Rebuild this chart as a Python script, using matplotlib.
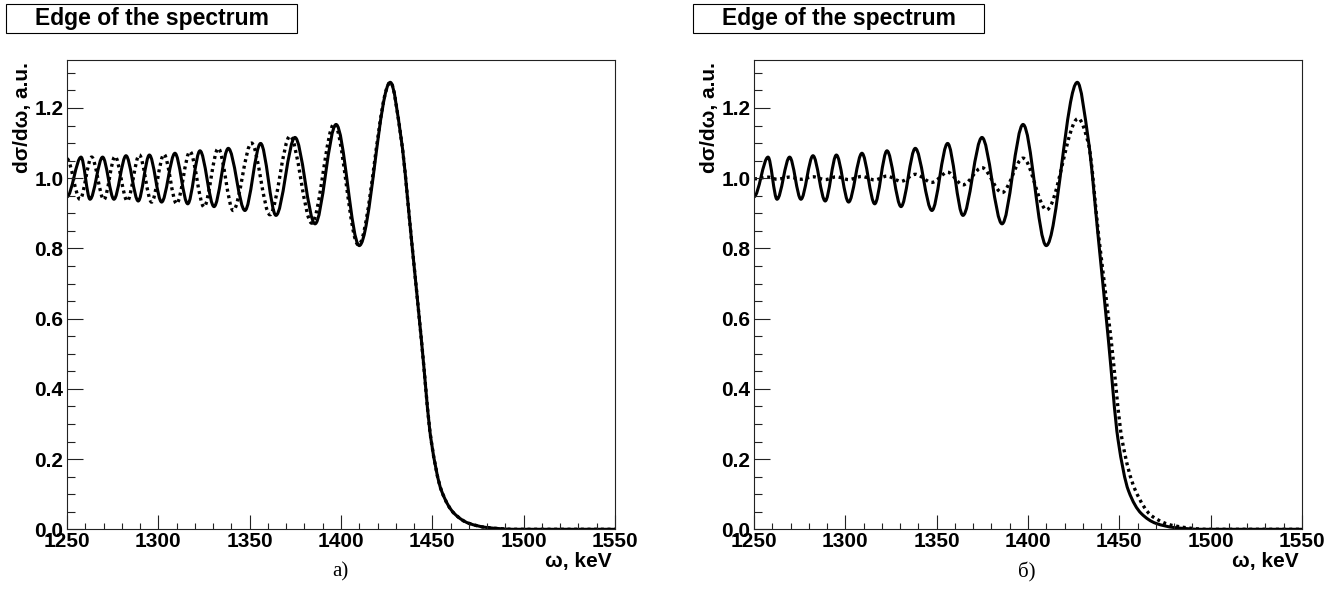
import matplotlib
matplotlib.use("Agg")
import matplotlib.pyplot as plt
from matplotlib.path import Path
from matplotlib.patches import PathPatch, Rectangle
from matplotlib.ticker import MultipleLocator, FormatStrFormatter

plt.rcParams['font.family'] = ['Liberation Sans', 'DejaVu Sans']
plt.rcParams['font.weight'] = 'bold'

# solid curve, same on both panels: oscillation extrema, then the falling edge
solid_w = [1250, 1257.7, 1262.6, 1269.5, 1275.7, 1282.3, 1289.0, 1295.1, 1301.8, 1309.1,
           1316.1, 1322.8, 1330.5, 1338.3, 1347.4, 1356.0, 1364.4, 1374.8, 1385.8, 1397.3,
           1410.0, 1427.0, 1433.0, 1438.6, 1444.0, 1449.3, 1455.0, 1462, 1470, 1480, 1495, 1550]
solid_y = [0.947, 1.060, 0.940, 1.060, 0.940, 1.064, 0.935, 1.066, 0.932, 1.071,
           0.927, 1.078, 0.919, 1.085, 0.908, 1.099, 0.894, 1.116, 0.870, 1.153,
           0.808, 1.273, 1.110, 0.824, 0.540, 0.255, 0.110, 0.045, 0.017, 0.005, 0.0, 0.0]

# dotted curve of panel a)
dotted_a_w = [1250, 1257.1, 1263.5, 1270.2, 1276.3, 1283.0, 1289.6, 1296.3, 1303.1, 1310.0,
              1317.3, 1325.0, 1332.8, 1341.0, 1351.0, 1361.1, 1372.1, 1384.0, 1396.3, 1409.5,
              1427.0, 1433.0, 1438.6, 1444.0, 1449.3, 1455.0, 1462, 1470, 1480, 1495, 1550]
dotted_a_y = [1.055, 0.940, 1.060, 0.939, 1.062, 0.935, 1.066, 0.932, 1.068, 0.927,
              1.076, 0.918, 1.085, 0.908, 1.100, 0.896, 1.120, 0.872, 1.155, 0.810,
              1.273, 1.110, 0.824, 0.540, 0.255, 0.110, 0.045, 0.017, 0.005, 0.0, 0.0]

# dotted curve of panel б)
dotted_b_w = [1250, 1257.7, 1262.6, 1269.5, 1275.7, 1282.3, 1289.0, 1295.1, 1301.8, 1309.1,
              1316.1, 1322.8, 1330.5, 1338.3, 1347.4, 1356.0, 1364.4, 1374.8, 1385.8, 1397.3,
              1410.2, 1427.5, 1433.0, 1438.8, 1445.5, 1451.5, 1458.6, 1468, 1480, 1498, 1550]
dotted_b_y = [0.998, 1.003, 0.997, 1.003, 0.997, 1.004, 0.996, 1.004, 0.996, 1.005,
              0.995, 1.006, 0.991, 1.011, 0.988, 1.017, 0.981, 1.030, 0.959, 1.057,
              0.910, 1.170, 1.100, 0.830, 0.540, 0.255, 0.113, 0.037, 0.010, 0.0, 0.0]

title = 'Edge of the spectrum'
x_label = 'ω, keV'
y_label = 'dσ/dω, a.u.'
panel_labels = ['a)', 'б)']


def slopes(x, y):
    # monotone (Fritsch-Carlson) tangents, zero at the extrema
    n = len(x)
    d = [(y[i + 1] - y[i]) / (x[i + 1] - x[i]) for i in range(n - 1)]
    m = [0.0] * n
    for i in range(1, n - 1):
        if d[i - 1] * d[i] > 0:
            h0 = x[i] - x[i - 1]
            h1 = x[i + 1] - x[i]
            w1 = 2 * h1 + h0
            w2 = h1 + 2 * h0
            m[i] = (w1 + w2) / (w1 / d[i - 1] + w2 / d[i])
    return m


def smooth_path(x, y):
    m = slopes(x, y)
    verts = [(x[0], y[0])]
    codes = [Path.MOVETO]
    for i in range(len(x) - 1):
        h = (x[i + 1] - x[i]) / 3
        verts += [(x[i] + h, y[i] + m[i] * h), (x[i + 1] - h, y[i + 1] - m[i + 1] * h), (x[i + 1], y[i + 1])]
        codes += [Path.CURVE4] * 3
    return Path(verts, codes)


W, H = 1333, 589
fig = plt.figure(figsize=(W / 100, H / 100), dpi=100)

panels = [(67, dotted_a_w, dotted_a_y), (754, dotted_b_w, dotted_b_y)]
for k, (left, dw, dy) in enumerate(panels):
    ax = fig.add_axes([left / W, 1 - 529.3 / H, 548 / W, 469.3 / H])
    ax.add_patch(PathPatch(smooth_path(solid_w, solid_y), fill=False, ec='black', lw=2.2,
                           joinstyle='round'))
    ax.add_patch(PathPatch(smooth_path(dw, dy), fill=False, ec='black', lw=2.4,
                           ls=(0, (0.9, 1.1)), capstyle='butt'))
    ax.set_xlim(1250, 1550)
    ax.set_ylim(0, 1.3366)
    ax.xaxis.set_major_locator(MultipleLocator(50))
    ax.xaxis.set_minor_locator(MultipleLocator(10))
    ax.yaxis.set_major_locator(MultipleLocator(0.2))
    ax.yaxis.set_minor_locator(MultipleLocator(0.05))
    ax.yaxis.set_major_formatter(FormatStrFormatter('%.1f'))
    ax.tick_params(which='both', direction='in', top=False, right=False, width=0.8,
                   labelsize=15, color='#222222')
    ax.tick_params(axis='x', which='major', length=10, pad=2)
    ax.tick_params(axis='x', which='minor', length=4.5)
    ax.tick_params(axis='y', which='major', length=11.5, pad=2.5)
    ax.tick_params(axis='y', which='minor', length=6)
    for s in ax.spines.values():
        s.set_linewidth(0.8)
        s.set_color('#222222')

    fig.patches.append(Rectangle(((left - 61) / W, 1 - 33.3 / H), 291 / W, 29.3 / H,
                                 transform=fig.transFigure, fill=False, ec='black', lw=0.8))
    fig.text((left + 84.5) / W, 1 - 19 / H, title, ha='center', va='center', fontsize=16.5)
    fig.text((left - 44) / W, 1 - 62 / H, y_label, rotation=90, ha='center', va='top', fontsize=15)
    fig.text((left + 545) / W, 1 - 562 / H, x_label, ha='right', va='center', fontsize=15)
    fig.text((left + 273) / W, 1 - 572 / H, panel_labels[k], ha='center', va='center',
             fontsize=15, fontweight='normal', family=['Liberation Serif', 'DejaVu Serif'])

fig.savefig('out.png', dpi=100)
